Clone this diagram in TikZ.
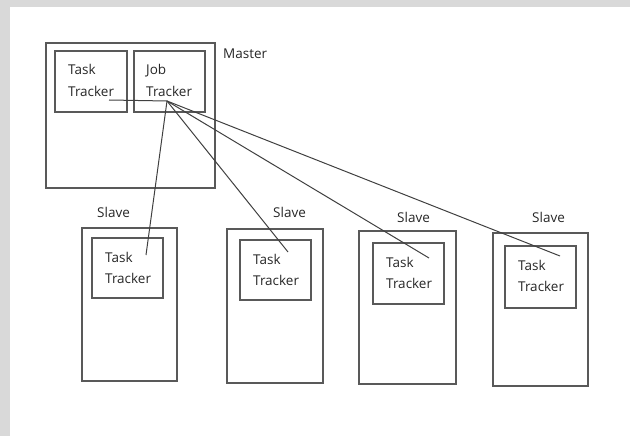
\documentclass[tikz,border=0pt]{standalone}
\usepackage{fontspec}
\setmainfont{Open Sans}
\usetikzlibrary{positioning}

\begin{document}
\begin{tikzpicture}[x=1pt,y=-1pt,
    box/.style={draw=black!65,line width=1.8pt,inner sep=0pt,anchor=north west},
    txt/.style={anchor=base west,align=left,inner sep=0pt,text=black!85,
      font=\fontsize{13.5}{21}\selectfont},
    link/.style={draw=black!75,line width=1pt}]
  \useasboundingbox (0,0) rectangle (630,436);
  % grauer Rand oben und links
  \fill[black!15] (0,0) rectangle (630,7);
  \fill[black!15] (0,0) rectangle (10,436);
  % Master mit Task Tracker und Job Tracker
  \node[box,minimum width=169,minimum height=145] (master) at (45,42) {};
  \node[box,minimum width=72,minimum height=61] (mtt) at (54,50) {};
  \node[box,minimum width=71,minimum height=61] (jt) at (133,50) {};
  \node[txt] (mtttxt) at ([shift={(14,46)}]mtt.north west) {Task\\Tracker};
  \node[txt] (jttxt) at ([shift={(13,46)}]jt.north west) {Job\\Tracker};
  \node[txt] (mlabel) at (223,59) {Master};
  \coordinate (mttend) at ([shift={(55,50)}]mtt.north west);
  \coordinate (hub) at ([shift={(34,51)}]jt.north west);
  \draw[link] (mttend) -- (hub);
  % Slaves
  \foreach \n/\sx/\sy/\sw/\sh/\tx/\ty/\th/\lx/\ly/\ex/\ey in
    {1/81/227/95/153/91/237/60/97/217/55/18,
     2/226/228/96/154/239/239/60/273/217/49/13,
     3/358/230/97/153/372/242/61/397/222/57/16,
     4/492/232/95/153/504/245/62/532/222/56/11}
  {
    \node[box,minimum width=\sw,minimum height=\sh] (slave\n) at (\sx,\sy) {};
    \node[box,minimum width=71,minimum height=\th] (stt\n) at (\tx,\ty) {};
    \node[txt] (stttxt\n) at ([shift={(14,46)}]stt\n.north west) {Task\\Tracker};
    \node[txt] (slabel\n) at (\lx,\ly) {Slave};
    \coordinate (sttend\n) at ([shift={(\ex,\ey)}]stt\n.north west);
    \draw[link] (hub) -- (sttend\n);
  }
\end{tikzpicture}
\end{document}
